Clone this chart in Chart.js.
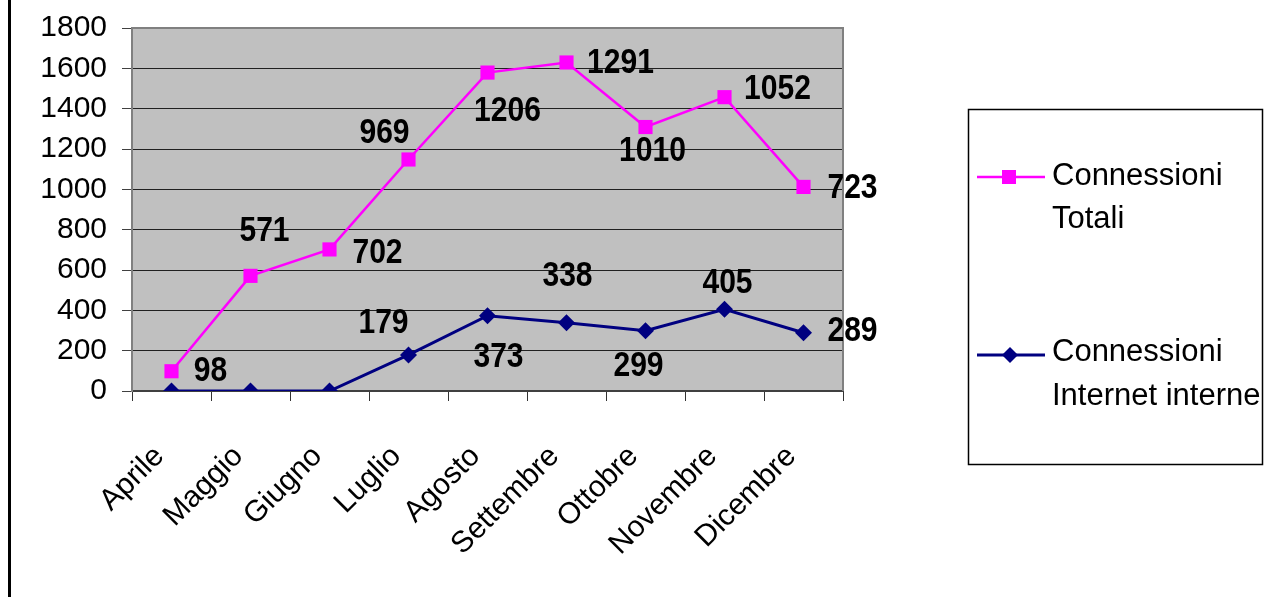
<!DOCTYPE html>
<html><head><meta charset="utf-8">
<script src="https://cdn.jsdelivr.net/npm/chart.js@4/dist/chart.umd.min.js"></script>
<style>html,body{margin:0;padding:0;background:#fff;overflow:hidden}</style>
</head><body>
<canvas id="c" width="1266" height="597"></canvas>
<script>
// ---- data ----
const months = ['Aprile','Maggio','Giugno','Luglio','Agosto','Settembre','Ottobre','Novembre','Dicembre'];
const totaliValues = [98, 571, 702, 969, 1206, 1291, 1010, 1052, 723];
const internetValues = [0, 0, 0, 179, 373, 338, 299, 405, 289];
const yTickValues = [0, 200, 400, 600, 800, 1000, 1200, 1400, 1600, 1800];
const totaliName = ['Connessioni', 'Totali'];
const internetName = ['Connessioni', 'Internet interne'];

// ---- label placement (pixel offsets from each point) ----
const totaliLabelDX = [39, 14, 48, -24, 20, 54, 7, 53, 49];
const totaliLabelDY = [-1, -46, 3, -27, 38, 0, 23, -9, 0];
const internetLabelDX = [0, 0, 0, -25, 11, 1, -7, 3, 49];
const internetLabelDY = [0, 0, 0, -33, 41, -48, 35, -27, -2];

const FONT = "'Liberation Sans', Arial, sans-serif";
const PINK = '#FF00FF', NAVY = '#000080';

const decor = {
  id: 'decor',
  beforeDraw(chart) {
    const ctx = chart.ctx, a = chart.chartArea;
    ctx.save();
    ctx.fillStyle = '#fff';
    ctx.fillRect(0, 0, chart.width, chart.height);
    ctx.fillStyle = '#000';
    ctx.fillRect(8, 0, 3, chart.height);
    ctx.fillStyle = '#C0C0C0';
    ctx.fillRect(a.left, a.top, a.right - a.left, a.bottom - a.top);
    ctx.restore();
  },
  beforeDatasetsDraw(chart) {
    const ctx = chart.ctx, a = chart.chartArea;
    ctx.save();
    ctx.strokeStyle = '#808080';
    ctx.lineWidth = 2;
    ctx.beginPath();
    ctx.moveTo(a.left, a.top);
    ctx.lineTo(a.right, a.top);
    ctx.lineTo(a.right, a.bottom);
    ctx.stroke();
    ctx.restore();
  },
  afterDatasetsDraw(chart) {
    const ctx = chart.ctx;
    const sets = [
      {idx: 1, vals: totaliValues, dx: totaliLabelDX, dy: totaliLabelDY},
      {idx: 0, vals: internetValues, dx: internetLabelDX, dy: internetLabelDY}
    ];
    ctx.save();
    ctx.fillStyle = '#000';
    ctx.font = 'bold 31px ' + FONT;
    ctx.textAlign = 'center';
    ctx.textBaseline = 'middle';
    sets.forEach(s => {
      const meta = chart.getDatasetMeta(s.idx);
      s.vals.forEach((v, i) => {
        if (!v) return;
        const p = meta.data[i];
        ctx.save();
        ctx.translate(p.x + s.dx[i], p.y + s.dy[i]);
        ctx.scale(0.97, 1.12);
        ctx.fillText(String(v), 0, 1);
        ctx.restore();
      });
    });
    ctx.restore();
  },
  afterDraw(chart) {
    const ctx = chart.ctx;
    ctx.save();
    ctx.strokeStyle = '#000';
    ctx.lineWidth = 1.5;
    ctx.strokeRect(968.5, 109.5, 294, 355);
    ctx.beginPath();
    ctx.rect(969, 110, 293, 353);
    ctx.clip();
    // item 1
    ctx.strokeStyle = PINK; ctx.lineWidth = 2.5;
    ctx.beginPath(); ctx.moveTo(977, 177); ctx.lineTo(1045, 177); ctx.stroke();
    ctx.fillStyle = PINK;
    ctx.fillRect(1002, 170, 14, 14);
    // item 2
    ctx.strokeStyle = NAVY; ctx.lineWidth = 3;
    ctx.beginPath(); ctx.moveTo(977, 355); ctx.lineTo(1045, 355); ctx.stroke();
    ctx.fillStyle = NAVY;
    ctx.beginPath();
    ctx.moveTo(1010, 347); ctx.lineTo(1018, 355); ctx.lineTo(1010, 363); ctx.lineTo(1002, 355);
    ctx.closePath(); ctx.fill();
    ctx.fillStyle = '#000';
    ctx.font = '31px ' + FONT;
    ctx.textAlign = 'left';
    ctx.textBaseline = 'alphabetic';
    ctx.fillText(totaliName[0], 1052, 185);
    ctx.fillText(totaliName[1], 1052, 228);
    ctx.fillText(internetName[0], 1052, 361);
    ctx.fillText(internetName[1], 1052, 405);
    ctx.restore();
  }
};

new Chart(document.getElementById('c'), {
  type: 'line',
  data: {
    labels: months,
    datasets: [
      {
        label: internetName.join(' '),
        data: internetValues,
        borderColor: NAVY, backgroundColor: NAVY,
        borderWidth: 3,
        pointStyle: 'rectRot', pointRadius: 8.5, pointBorderWidth: 0,
        tension: 0, fill: false
      },
      {
        label: totaliName.join(' '),
        data: totaliValues,
        borderColor: PINK, backgroundColor: PINK,
        borderWidth: 2.5,
        pointStyle: 'rect', pointRadius: 10, pointBorderWidth: 0,
        tension: 0, fill: false
      }
    ]
  },
  options: {
    responsive: false,
    devicePixelRatio: 1,
    animation: false,
    layout: { padding: { left: 0, right: 423, top: 28, bottom: 0 } },
    plugins: { legend: { display: false }, tooltip: { enabled: false } },
    scales: {
      x: {
        offset: true,
        grid: { offset: true, drawOnChartArea: false, drawTicks: true, tickLength: 10, color: '#333', lineWidth: 1 },
        border: { color: '#404040', width: 2 },
        ticks: { color: '#000', font: { family: FONT, size: 30 }, minRotation: 45, maxRotation: 45, autoSkip: false, padding: 38, labelOffset: -12 },
        afterFit: s => { s.height = 206; s.paddingLeft = 0; s.paddingRight = 0; }
      },
      y: {
        stacked: true,
        min: 0, max: 1800,
        afterBuildTicks: s => { s.ticks = yTickValues.map(v => ({ value: v })); },
        grid: { color: '#202020', lineWidth: 1, tickLength: 10, tickColor: '#404040' },
        border: { color: '#808080', width: 2 },
        ticks: { color: '#000', font: { family: FONT, size: 30 }, padding: 15, callback: v => String(v) },
        afterFit: s => { s.width = 132; s.paddingTop = 0; s.paddingBottom = 0; }
      }
    }
  },
  plugins: [decor]
});
</script>
</body></html>
